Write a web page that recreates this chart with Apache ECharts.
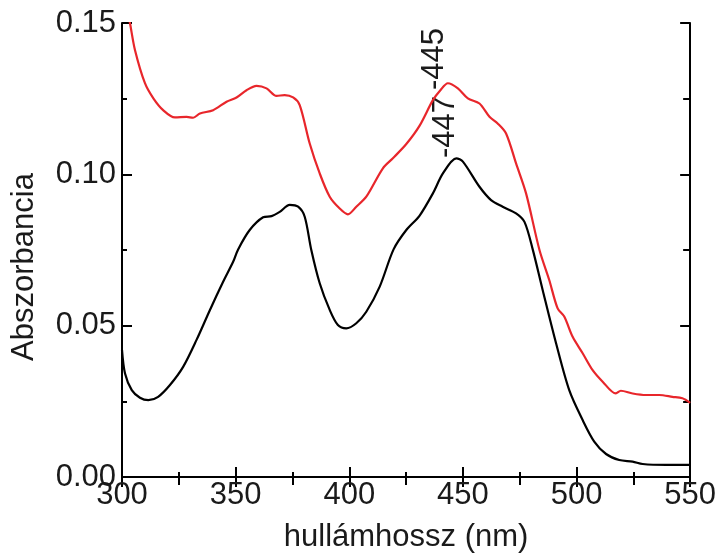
<!DOCTYPE html>
<html>
<head>
<meta charset="utf-8">
<script src="https://cdn.jsdelivr.net/npm/echarts@6/dist/echarts.min.js"></script>
<style>html,body{margin:0;padding:0;background:#fff}#c{width:719px;height:558px}</style>
</head>
<body>
<div id="c"></div>
<script>
const xTicks = [300, 350, 400, 450, 500, 550];
const yTicks = [0.00, 0.05, 0.10, 0.15];
const redWl = [300, 303.5, 305.7, 310.1, 313.8, 318.1, 323.3, 328.4, 331.3, 334.3, 340.1, 346, 350.4, 354.8, 359.2, 363.6, 368, 371.6, 375.3, 378.2, 382.6, 387, 391.4, 395.8, 399.4, 403.1, 407.5, 414.8, 419.2, 425.1, 430.9, 436.8, 440.1, 443.4, 447.8, 452.2, 457.3, 461.7, 465.3, 469, 473.4, 477.8, 483.7, 488, 491.7, 494.6, 498.3, 502.7, 507.1, 511.5, 517.3, 519.5, 524.7, 530.5, 536.4, 542.2, 546.6, 550];
const redAbs = [0.163, 0.150, 0.1411, 0.1301, 0.1251, 0.1212, 0.1188, 0.1190, 0.1187, 0.1201, 0.1212, 0.1240, 0.1254, 0.1278, 0.1292, 0.1284, 0.1259, 0.1262, 0.1254, 0.1229, 0.1102, 0.1003, 0.0926, 0.0887, 0.0868, 0.0893, 0.0926, 0.1020, 0.1053, 0.1100, 0.1160, 0.1245, 0.1278, 0.1301, 0.1284, 0.1251, 0.1234, 0.1190, 0.1168, 0.1135, 0.1036, 0.0937, 0.0750, 0.0651, 0.0557, 0.0530, 0.0463, 0.0409, 0.0353, 0.0315, 0.0276, 0.0285, 0.0276, 0.0271, 0.0271, 0.0265, 0.0260, 0.0245];
const blackWl = [300, 301.3, 304.3, 307.9, 311.6, 315.9, 321.1, 326.9, 332.8, 338.7, 344.5, 348.9, 351.1, 356.2, 362.1, 365.8, 369.4, 373.8, 377.5, 380.4, 383.3, 387, 391.4, 395, 398.7, 403.1, 407.5, 413.4, 419.5, 425.1, 430.9, 436.8, 441.2, 447.1, 450, 457.3, 462.4, 467.5, 473.4, 477.1, 480.7, 485.1, 491, 496.8, 502.7, 507.8, 513, 518.8, 524.7, 529.1, 539.4, 550];
const blackAbs = [0.0420, 0.0343, 0.0287, 0.0262, 0.0254, 0.0265, 0.0304, 0.0364, 0.0453, 0.0552, 0.0645, 0.0711, 0.0752, 0.0816, 0.0858, 0.0862, 0.0876, 0.0899, 0.0893, 0.0860, 0.0750, 0.0640, 0.0552, 0.0502, 0.0491, 0.0508, 0.0546, 0.0629, 0.0752, 0.0816, 0.0863, 0.0937, 0.1003, 0.1053, 0.1042, 0.0959, 0.0915, 0.0893, 0.0871, 0.0843, 0.0753, 0.0618, 0.0442, 0.0287, 0.0188, 0.0117, 0.0076, 0.0056, 0.0051, 0.0043, 0.0040, 0.0040];
const peakLabels = ['-445', '-447'];
const xTitle = 'hullámhossz (nm)';
const yTitle = 'Abszorbancia';

const FONT = 'Liberation Sans, Arial, sans-serif';
const TXT = '#1a1a1a';
const chart = echarts.init(document.getElementById('c'), null, {renderer: 'canvas'});
const zip = (a, b) => a.map((v, i) => [v, b[i]]);
const axisLineStyle = {show: true, lineStyle: {color: '#000', width: 2}};

chart.setOption({
  animation: false,
  backgroundColor: '#fff',
  grid: {left: 122, right: 28, top: 23, bottom: 81, containLabel: false},
  xAxis: [
    {
      type: 'value', min: 300, max: 550, interval: 50, position: 'bottom',
      axisLine: axisLineStyle,
      axisTick: {show: true, inside: true, length: 10, lineStyle: {color: '#000', width: 2}},
      minorTick: {show: true, splitNumber: 2, length: 5, lineStyle: {color: '#000', width: 2}},
      splitLine: {show: false},
      axisLabel: {show: true, margin: 3, fontSize: 31, fontFamily: FONT, color: TXT,
        formatter: v => xTicks.includes(v) ? String(v) : ''},
      name: xTitle, nameLocation: 'middle', nameGap: 45,
      nameTextStyle: {fontSize: 31, fontFamily: FONT, color: TXT}
    },
    {
      type: 'value', min: 300, max: 550, interval: 50, position: 'top',
      axisLine: axisLineStyle,
      axisTick: {show: true, inside: true, length: 10, lineStyle: {color: '#000', width: 2}},
      minorTick: {show: true, splitNumber: 2, length: 8, lineStyle: {color: '#000', width: 2}},
      splitLine: {show: false}, axisLabel: {show: false}
    }
  ],
  yAxis: [
    {
      type: 'value', min: 0, max: 0.15, interval: 0.05, position: 'left',
      axisLine: axisLineStyle,
      axisTick: {show: true, inside: true, length: 10, lineStyle: {color: '#000', width: 2}},
      minorTick: {show: true, splitNumber: 2, length: 5, lineStyle: {color: '#000', width: 2}},
      splitLine: {show: false},
      axisLabel: {show: true, margin: 6, fontSize: 31, fontFamily: FONT, color: TXT,
        formatter: v => v.toFixed(2)},
      name: yTitle, nameLocation: 'middle', nameGap: 82, nameRotate: 90,
      nameTextStyle: {fontSize: 31, fontFamily: FONT, color: TXT, padding: [0, 34, 0, 0]}
    },
    {
      type: 'value', min: 0, max: 0.15, interval: 0.05, position: 'right',
      axisLine: axisLineStyle,
      axisTick: {show: true, inside: true, length: 10, lineStyle: {color: '#000', width: 2}},
      minorTick: {show: true, splitNumber: 2, length: 7, lineStyle: {color: '#000', width: 2}},
      splitLine: {show: false}, axisLabel: {show: false}
    }
  ],
  series: [
    {
      type: 'line', xAxisIndex: 0, yAxisIndex: 0, data: zip(redWl, redAbs),
      showSymbol: false, smooth: 0.3, clip: true,
      lineStyle: {color: '#e8262b', width: 2.2}
    },
    {
      type: 'line', xAxisIndex: 0, yAxisIndex: 0, data: zip(blackWl, blackAbs),
      showSymbol: false, smooth: 0.3, clip: true,
      lineStyle: {color: '#000', width: 2.2}
    }
  ],
  graphic: [
    {type: 'text', x: 434, y: 59, rotation: Math.PI / 2,
      style: {text: peakLabels[0], fontSize: 31, fontFamily: FONT, fill: TXT, align: 'center', verticalAlign: 'middle'}},
    {type: 'text', x: 445, y: 127, rotation: Math.PI / 2,
      style: {text: peakLabels[1], fontSize: 31, fontFamily: FONT, fill: TXT, align: 'center', verticalAlign: 'middle'}}
  ]
});
</script>
</body>
</html>
